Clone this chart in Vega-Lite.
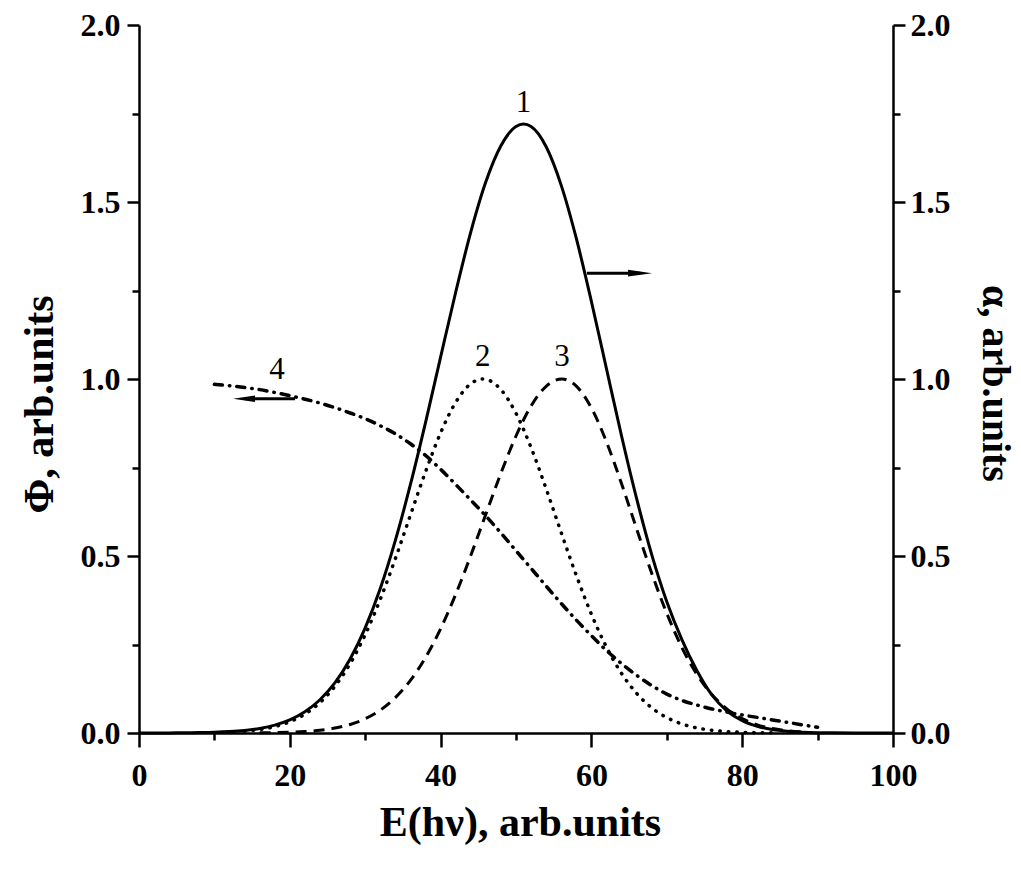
{
  "$schema": "https://vega.github.io/schema/vega-lite/v6.json",
  "width": 754,
  "height": 708,
  "autosize": "none",
  "padding": {"left": 139, "top": 25, "right": 128, "bottom": 136},
  "background": "white",
  "config": {
    "view": {"stroke": null},
    "axis": {
      "grid": false,
      "domainColor": "black",
      "domainWidth": 2.5,
      "tickColor": "black",
      "tickWidth": 2.5,
      "labelFont": "Liberation Serif",
      "labelFontWeight": "bold",
      "labelFontSize": 32,
      "labelColor": "black",
      "labelFlush": false,
      "labelOverlap": false,
      "titleFont": "Liberation Serif",
      "titleFontWeight": "bold",
      "titleFontSize": 42,
      "titleColor": "black"
    }
  },
  "datasets": {
    "c1": [
      {"x": 0, "y": 0.0001}, {"x": 2, "y": 0.0002}, {"x": 4, "y": 0.0003}, {"x": 6, "y": 0.0006},
      {"x": 8, "y": 0.0011}, {"x": 10, "y": 0.0021}, {"x": 12, "y": 0.004}, {"x": 14, "y": 0.0073},
      {"x": 16, "y": 0.013}, {"x": 18, "y": 0.0224}, {"x": 20, "y": 0.037}, {"x": 22, "y": 0.06},
      {"x": 24, "y": 0.094}, {"x": 26, "y": 0.142}, {"x": 28, "y": 0.209}, {"x": 30, "y": 0.297},
      {"x": 32, "y": 0.408}, {"x": 34, "y": 0.544}, {"x": 36, "y": 0.702}, {"x": 38, "y": 0.877},
      {"x": 40, "y": 1.062}, {"x": 42, "y": 1.245}, {"x": 44, "y": 1.415}, {"x": 46, "y": 1.557},
      {"x": 48, "y": 1.659}, {"x": 50, "y": 1.713}, {"x": 51, "y": 1.72}, {"x": 52, "y": 1.713},
      {"x": 54, "y": 1.656}, {"x": 56, "y": 1.547}, {"x": 58, "y": 1.397}, {"x": 60, "y": 1.219},
      {"x": 62, "y": 1.029}, {"x": 64, "y": 0.839}, {"x": 66, "y": 0.662}, {"x": 68, "y": 0.504},
      {"x": 70, "y": 0.371}, {"x": 72, "y": 0.264}, {"x": 74, "y": 0.176}, {"x": 76, "y": 0.107},
      {"x": 78, "y": 0.062}, {"x": 80, "y": 0.035}, {"x": 82, "y": 0.019}, {"x": 84, "y": 0.0096},
      {"x": 86, "y": 0.0048}, {"x": 88, "y": 0.0022}, {"x": 90, "y": 0.001}, {"x": 92, "y": 0.0005},
      {"x": 95, "y": 0.0002}, {"x": 100, "y": 0}
    ],
    "c2": [
      {"x": 14, "y": 0.0052}, {"x": 18, "y": 0.0181}, {"x": 20, "y": 0.0318}, {"x": 22, "y": 0.0533},
      {"x": 24, "y": 0.0858}, {"x": 26, "y": 0.1324}, {"x": 28, "y": 0.1959}, {"x": 30, "y": 0.2778},
      {"x": 32, "y": 0.3778}, {"x": 34, "y": 0.4925}, {"x": 36, "y": 0.6157}, {"x": 38, "y": 0.7379},
      {"x": 40, "y": 0.8479}, {"x": 42, "y": 0.934}, {"x": 44, "y": 0.9866}, {"x": 45.6, "y": 1.0},
      {"x": 48, "y": 0.97}, {"x": 50, "y": 0.9031}, {"x": 52, "y": 0.8061}, {"x": 54, "y": 0.6898},
      {"x": 56, "y": 0.5659}, {"x": 58, "y": 0.4452}, {"x": 60, "y": 0.3357}, {"x": 62, "y": 0.2428},
      {"x": 64, "y": 0.1683}, {"x": 66, "y": 0.1119}, {"x": 68, "y": 0.0713}, {"x": 70, "y": 0.0436},
      {"x": 72, "y": 0.0255}, {"x": 74, "y": 0.0143}, {"x": 76, "y": 0.0077}, {"x": 78, "y": 0.004},
      {"x": 80, "y": 0.002}, {"x": 84, "y": 0.0004}
    ],
    "c3": [
      {"x": 16, "y": 0.0005}, {"x": 20, "y": 0.0021}, {"x": 22, "y": 0.0041}, {"x": 24, "y": 0.0077},
      {"x": 26, "y": 0.0139}, {"x": 28, "y": 0.0241}, {"x": 30, "y": 0.0402}, {"x": 32, "y": 0.0646},
      {"x": 34, "y": 0.0999}, {"x": 36, "y": 0.1487}, {"x": 38, "y": 0.2133}, {"x": 40, "y": 0.2944},
      {"x": 42, "y": 0.3915}, {"x": 44, "y": 0.5013}, {"x": 46, "y": 0.6181}, {"x": 48, "y": 0.7338},
      {"x": 50, "y": 0.839}, {"x": 52, "y": 0.9238}, {"x": 54, "y": 0.9794}, {"x": 56.1, "y": 1.0},
      {"x": 58, "y": 0.98}, {"x": 60, "y": 0.9181}, {"x": 62, "y": 0.8223}, {"x": 64, "y": 0.7043},
      {"x": 66, "y": 0.5766}, {"x": 68, "y": 0.4513}, {"x": 70, "y": 0.3377}, {"x": 72, "y": 0.2416},
      {"x": 74, "y": 0.1653}, {"x": 76, "y": 0.108}, {"x": 78, "y": 0.0676}, {"x": 80, "y": 0.0404},
      {"x": 82, "y": 0.0231}, {"x": 84, "y": 0.0126}, {"x": 86, "y": 0.0066}, {"x": 88, "y": 0.0033}
    ],
    "c4": [
      {"x": 10, "y": 0.985}, {"x": 12, "y": 0.981}, {"x": 14, "y": 0.976}, {"x": 16, "y": 0.97},
      {"x": 18, "y": 0.962}, {"x": 20, "y": 0.953}, {"x": 22, "y": 0.943}, {"x": 24, "y": 0.932},
      {"x": 26, "y": 0.919}, {"x": 28, "y": 0.904}, {"x": 30, "y": 0.888}, {"x": 32, "y": 0.868},
      {"x": 34, "y": 0.845}, {"x": 36, "y": 0.817}, {"x": 38, "y": 0.784}, {"x": 40, "y": 0.745},
      {"x": 42, "y": 0.702}, {"x": 44, "y": 0.658}, {"x": 46, "y": 0.613}, {"x": 48, "y": 0.565},
      {"x": 50, "y": 0.515}, {"x": 52, "y": 0.465}, {"x": 54, "y": 0.415}, {"x": 56, "y": 0.366},
      {"x": 58, "y": 0.319}, {"x": 60, "y": 0.275}, {"x": 62, "y": 0.233}, {"x": 64, "y": 0.196},
      {"x": 66, "y": 0.163}, {"x": 68, "y": 0.134}, {"x": 70, "y": 0.11}, {"x": 72, "y": 0.092},
      {"x": 74, "y": 0.079}, {"x": 76, "y": 0.068}, {"x": 78, "y": 0.059}, {"x": 80, "y": 0.051},
      {"x": 82, "y": 0.044}, {"x": 84, "y": 0.037}, {"x": 86, "y": 0.03}, {"x": 88, "y": 0.023},
      {"x": 90, "y": 0.016}
    ],
    "labels": [
      {"x": 51, "y": 1.78, "t": "1"},
      {"x": 45.6, "y": 1.062, "t": "2"},
      {"x": 56.1, "y": 1.062, "t": "3"},
      {"x": 18.3, "y": 1.025, "t": "4"}
    ],
    "arrows": [
      {"x": 59.4, "x2": 66.5, "y": 1.299},
      {"x": 14.0, "x2": 20.7, "y": 0.944}
    ],
    "headR": [{"x": 66.45, "y": 1.299}],
    "headL": [{"x": 13.93, "y": 0.944}]
  },
  "layer": [
    {
      "encoding": {
        "x": {
          "field": "x", "type": "quantitative",
          "scale": {"domain": [0, 100], "nice": false},
          "axis": {
            "values": [0, 10, 20, 30, 40, 50, 60, 70, 80, 90, 100],
            "labelExpr": "datum.value % 20 === 0 ? datum.label : ''",
            "tickSize": {"condition": {"test": "datum.value % 20 === 0", "value": 14}, "value": 7},
            "labelBaseline": "alphabetic",
            "labelPadding": 38,
            "title": "E(hν), arb.units",
            "titleBaseline": "alphabetic",
            "titleX": 381,
            "titleY": 102
          }
        },
        "y": {
          "field": "y", "type": "quantitative",
          "scale": {"domain": [0, 2], "nice": false},
          "axis": {
            "orient": "left",
            "values": [0, 0.25, 0.5, 0.75, 1, 1.25, 1.5, 1.75, 2],
            "format": ".1f",
            "labelExpr": "(datum.value * 2) % 1 === 0 ? datum.label : ''",
            "tickSize": {"condition": {"test": "(datum.value * 2) % 1 === 0", "value": 12}, "value": 7},
            "labelPadding": 7,
            "title": "Φ, arb.units",
            "titleBaseline": "alphabetic",
            "titleAngle": -90,
            "titleX": -87,
            "titleY": 379
          }
        }
      },
      "layer": [
        {
          "data": {"name": "c2"},
          "mark": {"type": "line", "color": "black", "strokeWidth": 3.5, "strokeDash": [0.5, 8], "strokeCap": "round", "interpolate": "monotone"}
        },
        {
          "data": {"name": "c3"},
          "mark": {"type": "line", "color": "black", "strokeWidth": 3, "strokeDash": [11, 7], "interpolate": "monotone"}
        },
        {
          "data": {"name": "c4"},
          "mark": {"type": "line", "color": "black", "strokeWidth": 3.5, "strokeDash": [8, 7, 0.5, 7], "strokeCap": "round", "interpolate": "monotone"}
        },
        {
          "data": {"name": "labels"},
          "mark": {"type": "text", "font": "Liberation Serif", "fontSize": 31, "color": "black", "align": "center", "baseline": "middle"},
          "encoding": {
            "text": {"field": "t", "type": "nominal"}
          }
        },
        {
          "data": {"name": "arrows"},
          "mark": {"type": "rule", "color": "black", "strokeWidth": 3},
          "encoding": {
            "x2": {"field": "x2"}
          }
        },
        {
          "data": {"name": "headR"},
          "mark": {"type": "point", "filled": true, "color": "black", "opacity": 1, "size": 576, "shape": "M-1,-0.28L1,0L-1,0.28Z"}
        },
        {
          "data": {"name": "headL"},
          "mark": {"type": "point", "filled": true, "color": "black", "opacity": 1, "size": 484, "shape": "M1,-0.3L-1,0L1,0.3Z"}
        }
      ]
    },
    {
      "data": {"name": "c1"},
      "mark": {"type": "line", "color": "black", "strokeWidth": 3, "interpolate": "monotone"},
      "encoding": {
        "x": {
          "field": "x", "type": "quantitative",
          "scale": {"domain": [0, 100], "nice": false},
          "axis": {
            "values": [0, 10, 20, 30, 40, 50, 60, 70, 80, 90, 100],
            "labelExpr": "datum.value % 20 === 0 ? datum.label : ''",
            "tickSize": {"condition": {"test": "datum.value % 20 === 0", "value": 14}, "value": 7},
            "labelBaseline": "alphabetic",
            "labelPadding": 38,
            "title": "E(hν), arb.units",
            "titleBaseline": "alphabetic",
            "titleX": 381,
            "titleY": 102
          }
        },
        "y": {
          "field": "y", "type": "quantitative",
          "scale": {"domain": [0, 2], "nice": false},
          "axis": {
            "orient": "right",
            "values": [0, 0.25, 0.5, 0.75, 1, 1.25, 1.5, 1.75, 2],
            "format": ".1f",
            "labelExpr": "(datum.value * 2) % 1 === 0 ? datum.label : ''",
            "tickSize": {"condition": {"test": "(datum.value * 2) % 1 === 0", "value": 12}, "value": 7},
            "labelPadding": 5,
            "title": "α, arb.units",
            "titleFontSize": 40,
            "titleBaseline": "alphabetic",
            "titleAngle": 90,
            "titleX": 89,
            "titleY": 358
          }
        }
      }
    }
  ],
  "resolve": {"scale": {"y": "independent"}}
}
